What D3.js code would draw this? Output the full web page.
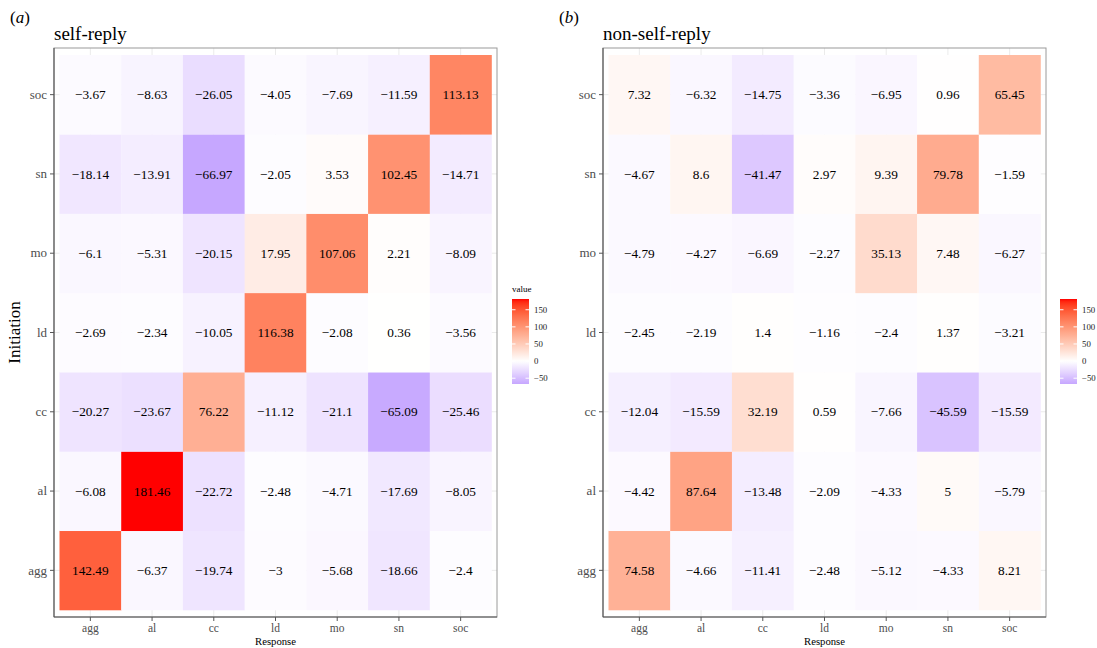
<!DOCTYPE html>
<html>
<head>
<meta charset="utf-8">
<script src="https://cdn.jsdelivr.net/npm/d3@7"></script>
<style>
  html, body { margin: 0; padding: 0; background: #fff; }
  svg { display: block; }
  svg text { font-family: "Liberation Serif", "DejaVu Serif", serif; }
</style>
</head>
<body>
<svg id="chart" width="1097" height="648"></svg>
<script>
// Category codes shared by both axes (bottom-to-top on y, left-to-right on x)
const categories = ["agg", "al", "cc", "ld", "mo", "sn", "soc"];

// Rows are Initiation categories (agg ... soc), columns are Response categories
const selfReply = [
  [142.49, -6.37, -19.74, -3, -5.68, -18.66, -2.4],      // agg
  [-6.08, 181.46, -22.72, -2.48, -4.71, -17.69, -8.05],  // al
  [-20.27, -23.67, 76.22, -11.12, -21.1, -65.09, -25.46],// cc
  [-2.69, -2.34, -10.05, 116.38, -2.08, 0.36, -3.56],    // ld
  [-6.1, -5.31, -20.15, 17.95, 107.06, 2.21, -8.09],     // mo
  [-18.14, -13.91, -66.97, -2.05, 3.53, 102.45, -14.71], // sn
  [-3.67, -8.63, -26.05, -4.05, -7.69, -11.59, 113.13]   // soc
];

const nonSelfReply = [
  [74.58, -4.66, -11.41, -2.48, -5.12, -4.33, 8.21],     // agg
  [-4.42, 87.64, -13.48, -2.09, -4.33, 5, -5.79],        // al
  [-12.04, -15.59, 32.19, 0.59, -7.66, -45.59, -15.59],  // cc
  [-2.45, -2.19, 1.4, -1.16, -2.4, 1.37, -3.21],         // ld
  [-4.79, -4.27, -6.69, -2.27, 35.13, 7.48, -6.27],      // mo
  [-4.67, 8.6, -41.47, 2.97, 9.39, 79.78, -1.59],        // sn
  [7.32, -6.32, -14.75, -3.36, -6.95, 0.96, 65.45]       // soc
];

const legendTicks = [150, 100, 50, 0, -50];
const panelTitles = ["self-reply", "non-self-reply"];
const panelTags = ["a", "b"];

const SERIF = "'Liberation Serif', 'DejaVu Serif', serif";
const svg = d3.select("#chart");

// Shared diverging fill: blue - white - red in Lab space, midpoint 0
const allVals = selfReply.flat().concat(nonSelfReply.flat());
const vMin = d3.min(allVals), vMax = d3.max(allVals);
const span = Math.max(Math.abs(vMin), Math.abs(vMax));
const lowInterp = d3.interpolateLab("blue", "white");
const highInterp = d3.interpolateLab("white", "red");
function fillColor(v) {
  const t = 0.5 + v / (2 * span);
  return t < 0.5 ? lowInterp(t / 0.5) : highInterp((t - 0.5) / 0.5);
}
const fmt = v => String(v).replace("-", "\u2212");

const panels = [
  { data: selfReply, x0: 54, legendX: 512, showYTitle: true, showLegendTitle: true },
  { data: nonSelfReply, x0: 603, legendX: 1060, showYTitle: false, showLegendTitle: false }
];

const panelY0 = 48, panelW = 443, panelH = 569;
const padX = 5.5, padY = 7;

panels.forEach((p, i) => {
  const g = svg.append("g").attr("transform", `translate(${p.x0},${panelY0})`);

  const x = d3.scaleBand().domain(categories).range([padX, panelW - padX]);
  const y = d3.scaleBand().domain(categories.slice().reverse()).range([padY, panelH - padY]);

  // grid lines
  g.append("g").selectAll("line").data(categories).join("line")
    .attr("x1", d => x(d) + x.bandwidth() / 2).attr("x2", d => x(d) + x.bandwidth() / 2)
    .attr("y1", 0).attr("y2", panelH)
    .attr("stroke", "#ebebeb").attr("stroke-width", 1);
  g.append("g").selectAll("line").data(categories).join("line")
    .attr("y1", d => y(d) + y.bandwidth() / 2).attr("y2", d => y(d) + y.bandwidth() / 2)
    .attr("x1", 0).attr("x2", panelW)
    .attr("stroke", "#ebebeb").attr("stroke-width", 1);

  const cells = [];
  p.data.forEach((row, ri) => row.forEach((v, ci) => {
    cells.push({ init: categories[ri], resp: categories[ci], v });
  }));

  g.append("g").selectAll("rect").data(cells).join("rect")
    .attr("x", d => x(d.resp)).attr("y", d => y(d.init))
    .attr("width", x.bandwidth() + 0.3).attr("height", y.bandwidth() + 0.3)
    .attr("fill", d => fillColor(d.v));

  g.append("g").selectAll("text").data(cells).join("text")
    .attr("x", d => x(d.resp) + x.bandwidth() / 2)
    .attr("y", d => y(d.init) + y.bandwidth() / 2)
    .attr("dy", "0.35em")
    .attr("text-anchor", "middle")
    .attr("font-family", SERIF)
    .attr("font-size", 13.3)
    .attr("fill", "#000")
    .text(d => fmt(d.v));

  // panel border (top/right light), axis lines (left/bottom darker)
  g.append("rect").attr("x", 0).attr("y", 0).attr("width", panelW).attr("height", panelH)
    .attr("fill", "none").attr("stroke", "#9a9a9a").attr("stroke-width", 1);

  const yAxis = g.append("g").call(d3.axisLeft(y).tickSize(4).tickSizeOuter(0).tickPadding(3));
  yAxis.attr("font-family", SERIF);
  yAxis.select(".domain").remove();
  yAxis.selectAll("line").attr("stroke", "#555");
  yAxis.selectAll("text").attr("font-size", 13).attr("fill", "#4d4d4d")
    .attr("font-family", SERIF);

  const xAxis = g.append("g").attr("transform", `translate(0,${panelH})`)
    .call(d3.axisBottom(x).tickSize(4).tickSizeOuter(0).tickPadding(3));
  xAxis.attr("font-family", SERIF);
  xAxis.select(".domain").remove();
  xAxis.selectAll("line").attr("stroke", "#555");
  xAxis.selectAll("text").attr("font-size", 11.5).attr("fill", "#4d4d4d")
    .attr("font-family", SERIF);

  g.append("line").attr("x1", 0).attr("x2", 0).attr("y1", 0).attr("y2", panelH)
    .attr("stroke", "#555").attr("stroke-width", 1.1);
  g.append("line").attr("x1", 0).attr("x2", panelW).attr("y1", panelH).attr("y2", panelH)
    .attr("stroke", "#555").attr("stroke-width", 1.1);

  // axis titles
  g.append("text").attr("x", panelW / 2).attr("y", panelH + 28)
    .attr("text-anchor", "middle").attr("font-size", 10.7).attr("fill", "#000")
    .attr("font-family", SERIF)
    .text("Response");
  if (p.showYTitle) {
    g.append("text")
      .attr("transform", `translate(${-34},${panelH / 2}) rotate(-90)`)
      .attr("text-anchor", "middle").attr("font-size", 17).attr("fill", "#000")
      .attr("font-family", SERIF)
      .text("Initiation");
  }

  // panel title and tag
  g.append("text").attr("x", 0).attr("y", -8).attr("font-size", 19).attr("fill", "#000")
    .attr("font-family", SERIF)
    .text(panelTitles[i]);
  const tag = svg.append("text").attr("x", p.x0 - 44).attr("y", 23)
    .attr("font-size", 17).attr("fill", "#000").attr("font-family", SERIF);
  tag.append("tspan").text("(");
  tag.append("tspan").attr("font-style", "italic").text(panelTags[i]);
  tag.append("tspan").text(")");

  // colour bar legend
  const lx = p.legendX, ly = 299, lw = 17, lh = 85;
  const gradId = "grad" + i;
  const grad = svg.append("defs").append("linearGradient").attr("id", gradId)
    .attr("x1", 0).attr("x2", 0).attr("y1", 1).attr("y2", 0);
  d3.range(0, 41).forEach(k => {
    const f = k / 40;
    grad.append("stop").attr("offset", f).attr("stop-color", fillColor(vMin + f * (vMax - vMin)));
  });
  const ls = d3.scaleLinear().domain([vMin, vMax]).range([ly + lh, ly]);
  svg.append("rect").attr("x", lx).attr("y", ly).attr("width", lw).attr("height", lh)
    .attr("fill", `url(#${gradId})`);
  const lt = svg.append("g");
  legendTicks.forEach(t => {
    lt.append("line").attr("x1", lx).attr("x2", lx + 3.5).attr("y1", ls(t)).attr("y2", ls(t))
      .attr("stroke", "#fff").attr("stroke-width", 1);
    lt.append("line").attr("x1", lx + lw - 3.5).attr("x2", lx + lw).attr("y1", ls(t)).attr("y2", ls(t))
      .attr("stroke", "#fff").attr("stroke-width", 1);
    lt.append("text").attr("x", lx + lw + 5).attr("y", ls(t)).attr("dy", "0.35em")
      .attr("font-family", SERIF)
      .attr("font-size", 8.8).attr("fill", "#222").text(fmt(t));
  });
  if (p.showLegendTitle) {
    svg.append("text").attr("x", lx).attr("y", ly - 7).attr("font-size", 9).attr("fill", "#000")
      .attr("font-family", SERIF)
      .text("value");
  }
});
</script>
</body>
</html>
